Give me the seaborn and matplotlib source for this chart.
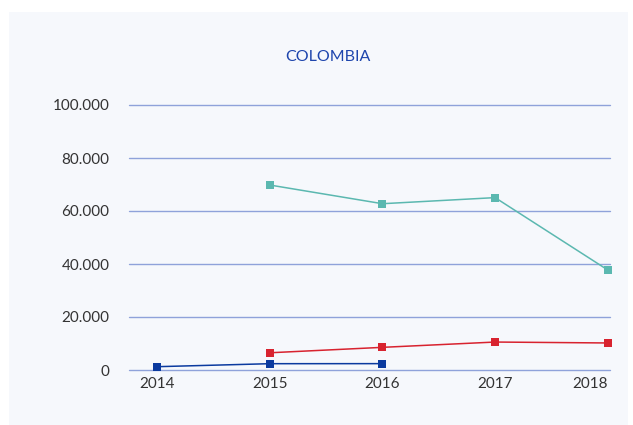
import pandas as pd
import numpy as np
import matplotlib
matplotlib.use("Agg")
import matplotlib.pyplot as plt
import seaborn as sns

# Data
years = [2014, 2015, 2016, 2017, 2018]
teal_vals = [np.nan, 69800, 62750, 65050, 37750]
red_vals = [np.nan, 6500, 8550, 10550, 10200]
blue_vals = [1250, 2380, 2400, np.nan, np.nan]
yticks = [0, 20000, 40000, 60000, 80000, 100000]
ytick_labels = ["0", "20.000", "40.000", "60.000", "80.000", "100.000"]

df = pd.DataFrame({"year": years, "teal": teal_vals, "red": red_vals, "blue": blue_vals})

sns.set_style("white")
plt.rcParams["font.family"] = ["Lato", "DejaVu Sans"]

bg = "#f6f8fc"
fig = plt.figure(figsize=(6.33, 4.25), dpi=100)
fig.patch.set_facecolor("white")
fig.patches.append(plt.Rectangle((9 / 633, 0), 619 / 633, 1 - 12 / 425,
                                 transform=fig.transFigure, facecolor=bg,
                                 edgecolor="none", zorder=-10))

ax = fig.add_axes([129 / 633, 1 - 370 / 425, (610 - 129) / 633, (370 - 105) / 425])
ax.patch.set_alpha(0)

colors = {"teal": "#5bb8b0", "red": "#d8232f", "blue": "#0b3a9f"}
for col in ["teal", "red", "blue"]:
    d = df.dropna(subset=[col])
    sns.lineplot(data=d, x="year", y=col, ax=ax, color=colors[col], marker="s",
                 markersize=6, markeredgewidth=0, linewidth=1.1, clip_on=False, zorder=3)

ax.set_xlim(2013.75, 2018.02)
ax.set_ylim(0, 100000)
ax.set_yticks(yticks)
ax.set_yticklabels(ytick_labels)
ax.set_xticks(years)
ax.set_xticklabels([str(y) for y in years])
ax.set_xlabel("")
ax.set_ylabel("")
for s in ax.spines.values():
    s.set_visible(False)
ax.grid(axis="y", color="#8fa2da", linewidth=1)
for gl in ax.get_ygridlines():
    gl.set_clip_on(False)
ax.set_axisbelow(True)
ax.tick_params(axis="both", length=0, labelsize=11, colors="#333333")
ax.tick_params(axis="y", pad=14)
ax.tick_params(axis="x", pad=5)
lbls = ax.get_xticklabels()
lbls[-1].set_ha("right")

fig.text(328 / 633, 1 - 57 / 425, "COLOMBIA", ha="center", va="center",
         fontsize=11.5, color="#1e45ad")

fig.savefig("out.png", dpi=100, facecolor=fig.get_facecolor())
